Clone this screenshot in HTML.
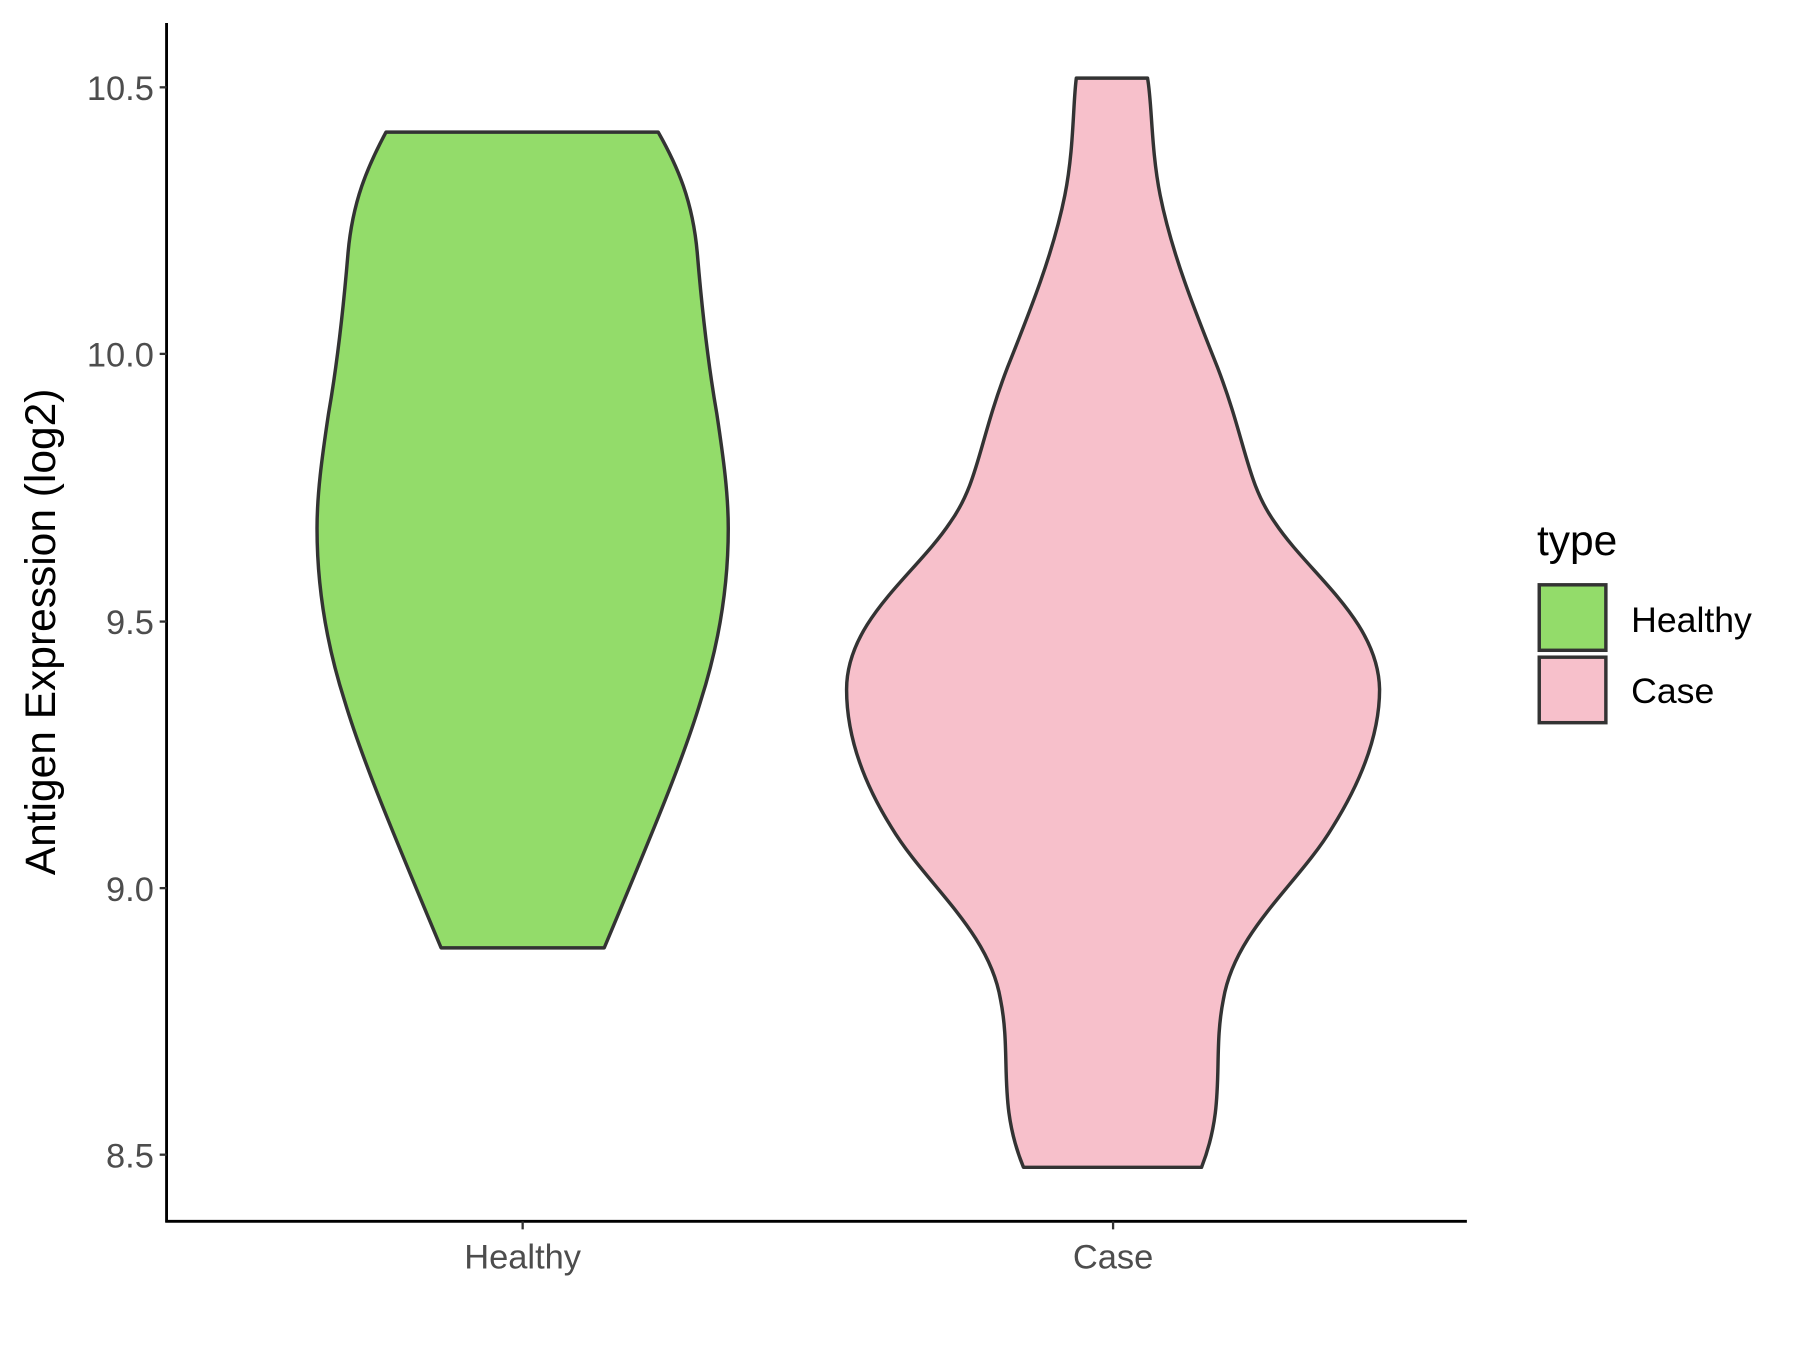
<!DOCTYPE html>
<html><head><meta charset="utf-8"><style>html,body{margin:0;padding:0;background:#fff}svg{display:block}</style></head>
<body>
<svg width="1800" height="1350" viewBox="0 0 1567 1175" preserveAspectRatio="none" xmlns="http://www.w3.org/2000/svg" font-family="Liberation Sans, Arial, sans-serif">
<rect width="1567" height="1175" fill="#fff"/>
<path d="M336,115 L573,115 C590,145 603,175 607,220 C612,280 617,320 624,360 C630,400 634,430 634,460 C634,510 626,560 610,610 C595,660 570,720 526,825 L384,825 C340,720 315,660 300,610 C284,560 276,510 276,460 C276,430 280,400 286,360 C293,320 298,280 303,220 C307,175 320,145 336,115 Z" fill="#93dc6a" stroke="#333" stroke-width="3" stroke-linejoin="round"/>
<path d="M937,68 L999,68 C1003,90 1002,130 1010,170 C1020,220 1040,270 1060,320 C1085,385 1085,420 1110,455 C1140,500 1200,540 1201,600 C1201,640 1185,680 1160,720 C1130,770 1075,810 1065,870 C1055,920 1068,960 1046,1016 L891,1016 C868,960 881,920 871,870 C861,810 806,770 776,720 C751,680 737,640 737,600 C737,540 797,500 827,455 C852,420 852,385 877,320 C897,270 917,220 927,170 C935,130 934,90 937,68 Z" fill="#f7c0cb" stroke="#333" stroke-width="3" stroke-linejoin="round"/>
<line x1="145" y1="20" x2="145" y2="1064" stroke="#000" stroke-width="2.5"/>
<line x1="144" y1="1063" x2="1277" y2="1063" stroke="#000" stroke-width="2.5"/>
<g stroke="#333" stroke-width="2">
<line x1="139" y1="76" x2="145" y2="76"/><line x1="139" y1="308" x2="145" y2="308"/><line x1="139" y1="541" x2="145" y2="541"/><line x1="139" y1="773" x2="145" y2="773"/><line x1="139" y1="1005" x2="145" y2="1005"/>
<line x1="455" y1="1063" x2="455" y2="1070"/><line x1="969" y1="1063" x2="969" y2="1070"/>
</g>
<g font-size="30" fill="#4d4d4d" text-anchor="end">
<text x="134" y="87">10.5</text><text x="134" y="319">10.0</text><text x="134" y="552">9.5</text><text x="134" y="784">9.0</text><text x="134" y="1016">8.5</text>
</g>
<g font-size="30" fill="#4d4d4d" text-anchor="middle">
<text x="455" y="1104">Healthy</text><text x="969" y="1104">Case</text>
</g>
<text transform="translate(48,550) rotate(-90)" font-size="37" text-anchor="middle" fill="#000">Antigen Expression (log2)</text>
<text x="1338" y="483" font-size="37" fill="#000">type</text>
<rect x="1340" y="509" width="58" height="57" fill="#93dc6a" stroke="#333" stroke-width="3"/>
<rect x="1340" y="572" width="58" height="57" fill="#f7c0cb" stroke="#333" stroke-width="3"/>
<text x="1420" y="550" font-size="31" fill="#000">Healthy</text>
<text x="1420" y="612" font-size="31" fill="#000">Case</text>
</svg>
</body></html>
